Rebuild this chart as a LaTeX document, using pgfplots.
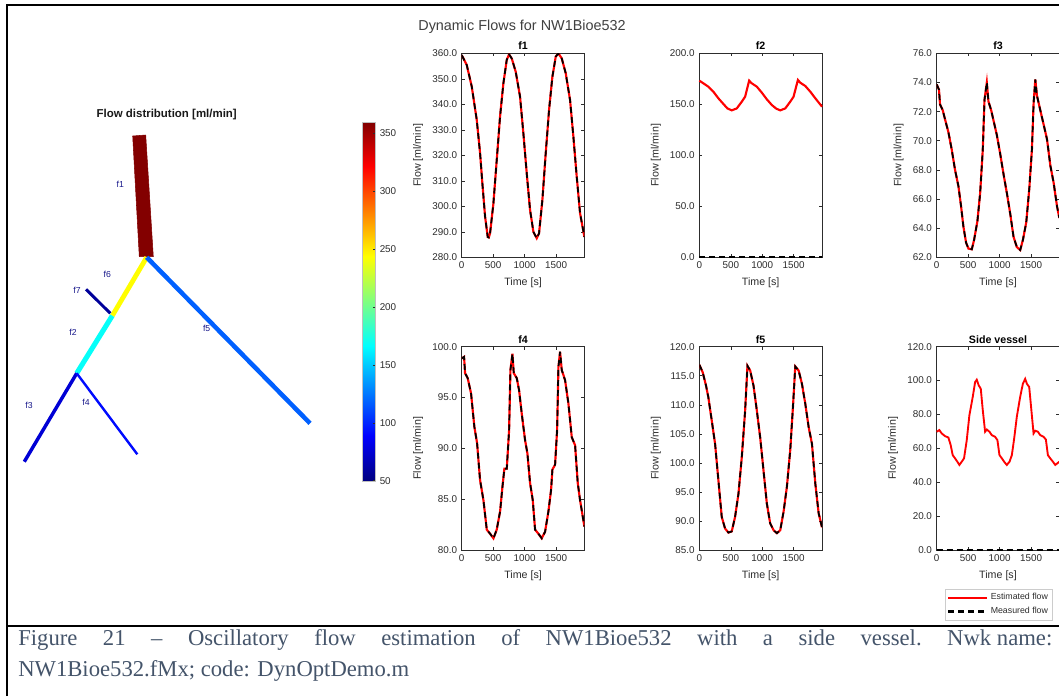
\documentclass[border=0pt]{standalone}
\usepackage{pgfplots}
\pgfplotsset{compat=1.18}
\usepackage{pgfplotstable}
\usepgfplotslibrary{patchplots}
\usepackage{fontspec}
\setmainfont{Liberation Sans}
\newfontfamily\capfont{Liberation Serif}
\definecolor{capc}{HTML}{44546A}
\definecolor{axc}{RGB}{45,45,45}
\definecolor{lblc}{RGB}{25,25,140}

\pgfplotstableread{
t v
0 359.3
80 355.4
159 347
238 334
291 321
328 309
371 296
413 288
430 287.8
450 289.4
503 301
556 318
609 335.2
662 348.2
715 357.4
752 359.6
795 358
858 352.8
927 343
980 328.6
1033 313
1086 298.6
1139 290
1192 287.5
1229 289.4
1282 302.5
1335 320.8
1388 337.8
1441 350.8
1494 358.7
1537 360
1590 358
1653 352.2
1722 341.7
1775 327.3
1828 311.6
1881 297.3
1950 288
}\tfone

\pgfplotstableread{
t v
0 173.2
64 170.6
143 167.3
223 162.4
303 155.9
383 150.3
446 146
515 144.1
595 146
675 152.6
728 157.5
754 164
792 173.2
834 170.6
914 167.3
994 161.4
1073 154.9
1153 149.3
1222 145.8
1286 144.1
1366 146
1445 152.6
1498 157.5
1525 164
1567 173.9
1605 171.2
1684 168
1764 162.4
1844 155.9
1950 147.7
}\tftwo

\pgfplotstableread{
t v
0 73.87
37 73.5
53 72.5
96 72.1
149 71.2
186 70.6
239 69.4
292 68.0
345 66.9
388 65.5
425 64.1
468 63.0
505 62.6
558 62.55
595 63.2
648 64.5
691 66.4
733 69.4
760 72.8
797 74.0
823 72.7
866 72.1
919 71.1
956 70.4
1010 69.1
1063 67.7
1116 66.4
1169 65.0
1222 63.4
1275 62.7
1328 62.5
1371 63.2
1424 64.4
1472 66.7
1514 69.4
1541 72.6
1568 74.2
1594 73.1
1647 72.1
1701 71.1
1754 70.1
1807 68.3
1860 67.1
1913 65.5
1950 64.7
}\tfthree

\pgfplotstableread{
t v
0 98.85
37 99.0
53 97.4
95 96.9
148 95.4
201 92.1
244 90.5
291 86.9
345 84.9
398 82.0
451 81.6
504 81.15
556 82.0
610 83.8
647 86.2
678 88.0
716 88.0
753 91.8
774 97.7
806 99.3
827 97.4
875 96.9
912 95.7
954 93.4
1007 90.8
1044 89.5
1086 86.6
1129 84.9
1166 82.0
1219 81.6
1272 81.15
1325 81.8
1378 83.8
1420 85.9
1441 87.9
1484 88.4
1516 91.8
1537 98.0
1563 99.5
1590 97.7
1643 96.7
1696 94.4
1749 91.1
1802 90.3
1844 86.6
1881 84.9
1950 82.3
}\tffour

\pgfplotstableread{
t v
0 116.9
53 115.6
106 113.3
143 111.3
197 107.3
250 103.3
303 97.0
356 90.7
409 88.7
462 88.0
515 88.2
568 90.7
622 94.7
675 101.0
728 109.0
765 116.7
808 115.9
861 113.3
914 109.0
967 104.4
1020 98.7
1073 93.0
1126 89.6
1180 88.4
1233 87.9
1286 88.4
1339 91.6
1392 95.9
1445 102.2
1488 109.6
1525 116.6
1578 115.9
1631 113.6
1684 110.2
1737 106.2
1790 103.3
1844 96.4
1897 91.3
1950 88.9
}\tffive

\pgfplotstableread{
t v
0 69.8
42 70.8
80 68.8
133 67.2
186 66.4
223 61.9
255 56.0
292 54.1
329 52.1
361 50.2
398 52.1
435 54.1
478 64.8
520 79.5
573 90.3
611 99.1
637 100.5
669 97.1
701 95.2
733 82.5
770 69.8
797 71.1
839 69.8
876 67.8
929 66.8
966 64.8
998 56.0
1036 54.1
1073 52.1
1115 50.2
1158 52.1
1195 56.0
1232 65.8
1274 78.6
1327 90.3
1370 98.1
1407 101.0
1434 98.1
1471 96.2
1503 83.5
1540 68.8
1566 70.4
1609 69.8
1646 67.8
1699 66.8
1736 65.2
1768 56.0
1805 54.1
1848 52.1
1885 50.2
1950 52.1
}\tfside

\pgfplotsset{
  flowax/.style={
    width=92pt, height=153pt, scale only axis,
    xmin=0, xmax=1950,
    xtick={0,500,1000,1500}, xticklabels={0,500,1000,1500},
    tick align=inside, major tick length=2.2pt,
    tick style={color=axc, line width=0.4pt},
    axis line style={draw=axc, line width=0.5pt},
    ticklabel style={font=\fontsize{7.4}{8}\selectfont, text=axc},
    label style={font=\fontsize{8}{9}\selectfont, text=axc},
    title style={font=\bfseries\fontsize{8}{9}\selectfont, yshift=-7pt},
    xlabel={Time [s]}, ylabel={Flow [ml/min]},
    /pgf/number format/assume math mode=true,
  },
}

\begin{document}
\begin{tikzpicture}
\useasboundingbox (0,0) rectangle (794.25pt,-522pt);
\fill[white] (0,0) rectangle (794.25pt,-522pt);

% frame
\draw[line width=1.5pt] (5.25pt,-522pt) -- (5.25pt,-3.75pt) -- (794.25pt,-3.75pt);
\draw[line width=1.5pt] (5.25pt,-469.5pt) -- (794.25pt,-469.5pt);

% network diagram
\begin{axis}[at={(0pt,-67.5pt)}, anchor=north west,
  width=300pt, height=300pt, scale only axis,
  xmin=0, xmax=400, ymin=90, ymax=490, y dir=reverse,
  hide axis, clip=false,
  colormap/jet, point meta min=50, point meta max=360,
  colorbar,
  colorbar style={at={(263pt,-91.3pt)}, anchor=north west,
    width=9.75pt, height=269.25pt, scale only axis,
    ytick={50,100,150,200,250,300,350},
    yticklabels={50,100,150,200,250,300,350},
    ytick pos=right, tick align=inside, major tick length=1.8pt,
    tick style={color=axc, line width=0.4pt},
    axis line style={draw=gray!50, line width=0.3pt},
    yticklabel style={font=\fontsize{7.4}{8}\selectfont, text=axc},
  },
]
\addplot[patch, patch type=rectangle, shader=flat, point meta=explicit]
  coordinates {(132.7,136) [359] (145.7,135) [359] (153.3,256.7) [359] (139.3,256.7) [359]};
\addplot[mesh, line width=3.6pt, point meta=explicit] coordinates {(146.7,257.3) [244] (112.3,315.7) [244]};
\addplot[mesh, line width=2.2pt, point meta=explicit] coordinates {(86,289.3) [58] (110.3,313.3) [58]};
\addplot[mesh, line width=3.8pt, point meta=explicit] coordinates {(112.3,315.7) [168] (76.7,373.3) [168]};
\addplot[mesh, line width=2.6pt, point meta=explicit] coordinates {(76.7,373.3) [76] (24.3,461.7) [76]};
\addplot[mesh, line width=1.8pt, point meta=explicit] coordinates {(76.7,373.3) [92] (137.3,454.3) [92]};
\addplot[mesh, line width=3.4pt, point meta=explicit] coordinates {(146.7,257.3) [118] (310,423.3) [118]};
\node[font=\fontsize{6.5}{7}\selectfont, text=lblc] at (axis cs:120.3,184.7) {f1};
\node[font=\fontsize{6.5}{7}\selectfont, text=lblc] at (axis cs:107.3,274) {f6};
\node[font=\fontsize{6.5}{7}\selectfont, text=lblc] at (axis cs:77,290.7) {f7};
\node[font=\fontsize{6.5}{7}\selectfont, text=lblc] at (axis cs:73,332.3) {f2};
\node[font=\fontsize{6.5}{7}\selectfont, text=lblc] at (axis cs:29,405.7) {f3};
\node[font=\fontsize{6.5}{7}\selectfont, text=lblc] at (axis cs:86,402.3) {f4};
\node[font=\fontsize{6.5}{7}\selectfont, text=lblc] at (axis cs:206.7,328.7) {f5};
\node[font=\bfseries\fontsize{8.6}{10}\selectfont, text=black!90] at (axis cs:166.7,115) {Flow distribution [ml/min]};
\end{axis}

% main title
\node[font=\fontsize{10.8}{12}\selectfont, text=black!75] at (391.5pt,-20.3pt) {Dynamic Flows for NW1Bioe532};

% f1
\begin{axis}[flowax, at={(346.3pt,-193pt)}, anchor=south west, title={f1},
  ymin=280, ymax=360, ytick={280,290,300,310,320,330,340,350,360},
  yticklabels={280.0,290.0,300.0,310.0,320.0,330.0,340.0,350.0,360.0}]
\addplot[red, line width=1.6pt] table {\tfone};
\addplot[black, line width=1.3pt, dash pattern=on 4.5pt off 3pt] table {\tfone};
\end{axis}

% f2
\begin{axis}[flowax, at={(524.5pt,-193pt)}, anchor=south west, title={f2}, clip=false,
  ymin=0, ymax=200, ytick={0,50,100,150,200},
  yticklabels={0.0,50.0,100.0,150.0,200.0}]
\addplot[red, line width=1.6pt] table {\tftwo};
\addplot[black, line width=1.6pt, dash pattern=on 4.5pt off 3pt] coordinates {(0,0) (1950,0)};
\end{axis}

% f3
\begin{axis}[flowax, at={(702.5pt,-193pt)}, anchor=south west, title={f3},
  ymin=62, ymax=76, ytick={62,64,66,68,70,72,74,76},
  yticklabels={62.0,64.0,66.0,68.0,70.0,72.0,74.0,76.0}]
\addplot[red, line width=1.6pt] table {\tfthree};
\addplot[black, line width=1.3pt, dash pattern=on 4.5pt off 3pt] table {\tfthree};
\end{axis}

% f4
\begin{axis}[flowax, height=152.5pt, at={(346.3pt,-412.5pt)}, anchor=south west, title={f4},
  ymin=80, ymax=100, ytick={80,85,90,95,100},
  yticklabels={80.0,85.0,90.0,95.0,100.0}]
\addplot[red, line width=1.6pt] table {\tffour};
\addplot[black, line width=1.3pt, dash pattern=on 4.5pt off 3pt] table {\tffour};
\end{axis}

% f5
\begin{axis}[flowax, height=152.5pt, at={(524.5pt,-412.5pt)}, anchor=south west, title={f5},
  ymin=85, ymax=120, ytick={85,90,95,100,105,110,115,120},
  yticklabels={85.0,90.0,95.0,100.0,105.0,110.0,115.0,120.0}]
\addplot[red, line width=1.6pt] table {\tffive};
\addplot[black, line width=1.3pt, dash pattern=on 4.5pt off 3pt] table {\tffive};
\end{axis}

% side vessel
\begin{axis}[flowax, height=152.5pt, at={(702.5pt,-412.5pt)}, anchor=south west, title={Side vessel}, clip=false,
  ymin=0, ymax=120, ytick={0,20,40,60,80,100,120},
  yticklabels={0.0,20.0,40.0,60.0,80.0,100.0,120.0},
  legend style={at={(axis description cs:0.068,-0.19)}, anchor=north west,
    draw=gray!40, line width=0.4pt, font=\fontsize{6.6}{7.5}\selectfont,
    inner sep=1.5pt, row sep=0pt, text=axc},
  legend cell align=left,
  legend image code/.code={\draw[#1] (0pt,0pt) -- (29pt,0pt);},
]
\addplot[red, line width=1.4pt] table {\tfside};
\addlegendentry{Estimated flow}
\addplot[black, line width=1.6pt, dash pattern=on 4.5pt off 3pt] coordinates {(0,0) (1950,0)};
\addlegendentry{Measured flow}
\end{axis}

% caption
\node[anchor=base west, inner sep=0pt, font=\capfont\fontsize{17}{20}\selectfont, text=capc]
  at (13.5pt,-484.3pt) {\frenchspacing\makebox[775.5pt][s]{Figure 21 – Oscillatory flow estimation of NW1Bioe532 with a side vessel. Nwk\hspace{0.25em}name:}};
\node[anchor=base west, inner sep=0pt, font=\capfont\fontsize{17}{20}\selectfont, text=capc]
  at (13.5pt,-507pt) {NW1Bioe532.fMx; code: DynOptDemo.m};
\end{tikzpicture}
\end{document}
